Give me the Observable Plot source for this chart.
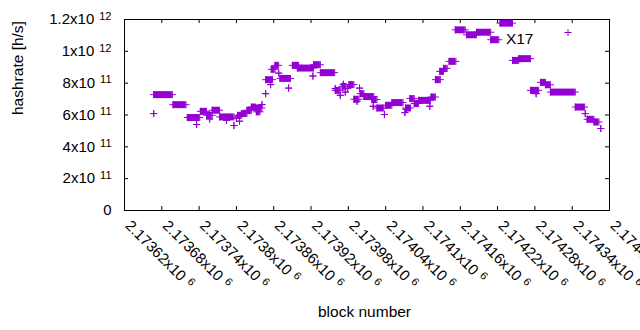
<!DOCTYPE html>
<html>
<head>
<meta charset="utf-8">
<script src="https://cdn.jsdelivr.net/npm/d3@7"></script>
<script src="https://cdn.jsdelivr.net/npm/@observablehq/plot@0.6"></script>
<style>
  html, body { margin: 0; padding: 0; background: #fff; }
  svg { font-family: "Liberation Sans", Arial, sans-serif; }
</style>
</head>
<body>
<div id="chart"></div>
<script>
// Runs of consecutive blocks sharing one hashrate estimate (start == end: single point)
const runStart = [2173667,2173667,2173698,2173721,2173736,2173742,2173752,2173757,2173761,2173773,2173784,2173796,
  2173800,2173802,2173808,2173805,2173817,2173824,2173831,2173832,2173841,2173847,2173847,2173855,2173856,2173862,
  2173868,2173870,2173884,2173890,2173898,2173923,2173924,2173935,2173959,2173959,2173967,2173972,2173975,2173979,
  2173970,2173981,2173989,2173994,2173998,2173999,2174005,2174018,2174020,2174026,2174038,2174040,2174050,2174071,
  2174073,2174072,2174079,2174086,2174093,2174111,2174113,2174120,2174127,2174133,2174142,2174152,2174170,2174186,
  2174209,2174224,2174244,2174254,2174282,2174273,2174289,2174297,2174305,2174345,2174361,2174364,2174375,2174386];
const runEnd = [2173667,2173697,2173719,2173741,2173736,2173752,2173761,2173757,2173773,2173796,2173784,2173796,
  2173800,2173808,2173817,2173805,2173824,2173831,2173841,2173838,2173841,2173847,2173858,2173855,2173862,2173868,
  2173868,2173887,2173884,2173900,2173924,2173923,2173935,2173958,2173959,2173967,2173967,2173972,2173975,2173979,
  2173976,2173989,2173997,2173994,2173998,2174005,2174021,2174026,2174020,2174037,2174038,2174050,2174068,2174071,
  2174073,2174080,2174086,2174093,2174112,2174111,2174120,2174128,2174133,2174139,2174153,2174168,2174186,2174209,
  2174222,2174244,2174254,2174273,2174282,2174286,2174297,2174305,2174345,2174360,2174361,2174375,2174383,2174386];
const runRate = [6.09e11,7.28e11,6.65e11,5.84e11,5.40e11,6.23e11,5.98e11,5.75e11,6.30e11,5.88e11,5.67e11,5.34e11,
  5.80e11,5.98e11,6.09e11,5.61e11,6.30e11,6.50e11,6.44e11,6.20e11,6.65e11,7.34e11,8.22e11,7.91e11,8.87e11,9.12e11,
  8.63e11,8.30e11,7.69e11,9.12e11,8.95e11,8.45e11,9.16e11,8.66e11,7.66e11,7.55e11,7.24e11,7.93e11,7.44e11,7.68e11,
  7.80e11,7.91e11,6.99e11,6.86e11,7.69e11,7.34e11,7.16e11,6.97e11,6.55e11,6.44e11,6.03e11,6.61e11,6.78e11,6.15e11,
  6.36e11,6.44e11,7.03e11,6.72e11,6.92e11,6.55e11,7.13e11,8.22e11,8.74e11,8.93e11,9.37e11,1.135e12,1.104e12,1.120e12,
  1.073e12,1.177e12,9.43e11,9.54e11,7.34e11,7.55e11,8.05e11,7.90e11,7.44e11,6.50e11,6.09e11,5.73e11,5.56e11,5.15e11];

const xTicks = [2173620,2173680,2173740,2173800,2173860,2173920,2173980,2174040,2174100,2174160,2174220,2174280,2174340,2174400];
const yTicks = [0,2e11,4e11,6e11,8e11,1e12,1.2e12];
const seriesName = "X17";
const xLabel = "block number";
const yLabel = "hashrate [h/s]";

const color = "#9400d3";
const runs = runStart.map((s, i) => ({start: s, end: runEnd[i], rate: runRate[i]}));

function sci(v) {
  if (v === 0) return "0";
  const e = Math.floor(Math.log10(v) + 1e-9);
  const m = +(v / Math.pow(10, e)).toFixed(6);
  return `${m}x10^${e}`;
}

const W = 640, H = 330, mT = 19, mR = 31, mB = 120, mL = 124;
const frameW = W - mL - mR, frameH = H - mT - mB, tick = 4;
const plusR = 2.4; // gives ~±3.5px arms with d3.symbolPlus

const svg = Plot.plot({
  width: W,
  height: H,
  marginTop: mT,
  marginRight: mR,
  marginBottom: mB,
  marginLeft: mL,
  style: {fontFamily: '"Liberation Sans", Arial, sans-serif', fontSize: "15px", color: "#000", background: "#fff"},
  x: {domain: [2173620, 2174400], axis: null},
  y: {domain: [0, 1.2e12], axis: null},
  marks: [
    // inward tick marks on all four sides (gnuplot mirror ticks)
    Plot.ruleX(xTicks, {x: d => d, insetTop: frameH - tick, stroke: "black"}),
    Plot.ruleX(xTicks, {x: d => d, insetBottom: frameH - tick, stroke: "black"}),
    Plot.ruleY(yTicks, {y: d => d, insetRight: frameW - tick, stroke: "black"}),
    Plot.ruleY(yTicks, {y: d => d, insetLeft: frameW - tick, stroke: "black"}),
    Plot.frame({stroke: "black", strokeWidth: 1}),
    Plot.text(yTicks, {y: d => d, frameAnchor: "left", textAnchor: "end", dx: -13, text: d => sci(d), fill: "black", fontSize: 15}),
    Plot.text(xTicks, {x: d => d, frameAnchor: "bottom", textAnchor: "start", rotate: 45, dx: 0, dy: 16, text: d => sci(d), fill: "black", fontSize: 15}),
    Plot.text([yLabel], {frameAnchor: "left", rotate: -90, dx: -106, text: d => d, fill: "black", fontSize: 15.5}),
    Plot.text([xLabel], {frameAnchor: "bottom", dx: -2.5, dy: 106, text: d => d, fill: "black", fontSize: 15.5}),
    Plot.ruleY(runs, {x1: "start", x2: "end", y: "rate", stroke: color, strokeWidth: 7}),
    Plot.dot(runs, {x: "start", y: "rate", symbol: "plus", r: plusR, stroke: color, strokeWidth: 1}),
    Plot.dot(runs, {x: "end", y: "rate", symbol: "plus", r: plusR, stroke: color, strokeWidth: 1}),
    Plot.text([seriesName], {frameAnchor: "top-right", dx: -76, dy: 13, textAnchor: "end", text: d => d, fill: "black", fontSize: 15.5}),
    Plot.dot([seriesName], {frameAnchor: "top-right", dx: -41.5, dy: 13, symbol: "plus", r: plusR, stroke: color, strokeWidth: 1})
  ]
});

svg.querySelectorAll("text").forEach(t => {
  const s = t.textContent;
  const i = s.indexOf("^");
  if (i < 0) return;
  t.textContent = s.slice(0, i);
  const sp = document.createElementNS("http://www.w3.org/2000/svg", "tspan");
  sp.setAttribute("dx", "5");
  sp.setAttribute("dy", "-0.42em");
  sp.setAttribute("font-size", "11");
  sp.textContent = s.slice(i + 1);
  t.appendChild(sp);
});

document.getElementById("chart").appendChild(svg);
</script>
</body>
</html>
